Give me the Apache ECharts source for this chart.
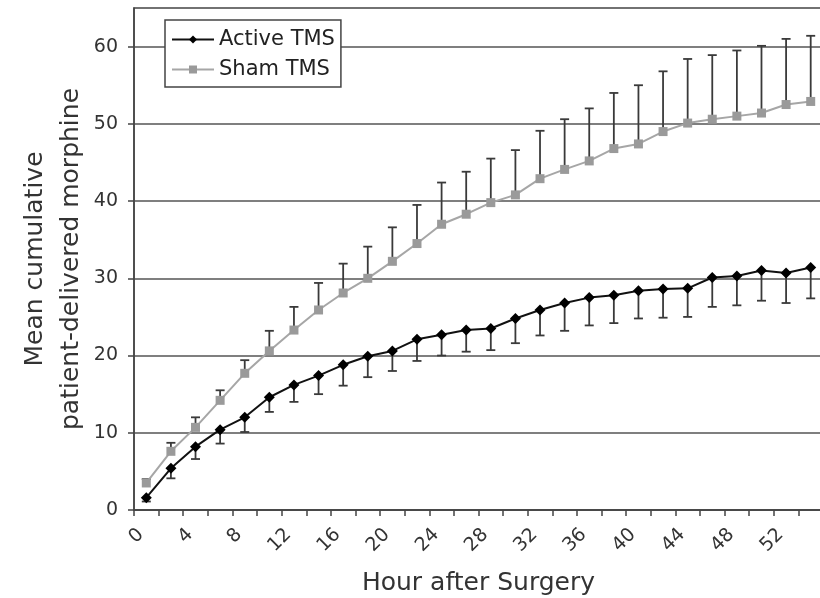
<!DOCTYPE html>
<html>
<head>
<meta charset="utf-8">
<script src="https://cdn.jsdelivr.net/npm/echarts@6/dist/echarts.min.js"></script>
<style>
  html, body { margin: 0; padding: 0; background: #fff; }
  #main { width: 820px; height: 598px; }
</style>
</head>
<body>
<div id="main"></div>
<script>
// hours after surgery (points sit on odd hours)
var hours = [1, 3, 5, 7, 9, 11, 13, 15, 17, 19, 21, 23, 25, 27, 29, 31, 33, 35, 37, 39, 41, 43, 45, 47, 49, 51, 53, 55];
// Active TMS mean and lower end of error bar
var activeMean = [1.6, 5.4, 8.2, 10.4, 12.0, 14.6, 16.2, 17.4, 18.8, 19.9, 20.6, 22.1, 22.7, 23.3, 23.5, 24.8, 25.9, 26.8, 27.5, 27.8, 28.4, 28.6, 28.7, 30.1, 30.3, 31.0, 30.7, 31.4];
var activeLow = [1.1, 4.1, 6.6, 8.6, 10.1, 12.7, 14.0, 15.0, 16.1, 17.2, 18.0, 19.3, 20.0, 20.5, 20.7, 21.6, 22.6, 23.2, 23.9, 24.2, 24.8, 24.9, 25.0, 26.3, 26.5, 27.1, 26.8, 27.4];
// Sham TMS mean and upper end of error bar
var shamMean = [3.5, 7.6, 10.7, 14.2, 17.7, 20.6, 23.3, 25.9, 28.1, 30.0, 32.2, 34.5, 37.0, 38.3, 39.8, 40.8, 42.9, 44.1, 45.2, 46.8, 47.4, 49.0, 50.1, 50.6, 51.0, 51.4, 52.5, 52.9];
var shamHigh = [4.0, 8.7, 12.0, 15.5, 19.4, 23.2, 26.3, 29.4, 31.9, 34.1, 36.6, 39.5, 42.4, 43.8, 45.5, 46.6, 49.1, 50.6, 52.0, 54.0, 55.0, 56.8, 58.4, 58.9, 59.5, 60.1, 61.0, 61.4];
// tick labels
var yTicks = [0, 10, 20, 30, 40, 50, 60];
var xTicks = [0, 4, 8, 12, 16, 20, 24, 28, 32, 36, 40, 44, 48, 52];

var FONT = '"DejaVu Sans", Verdana, sans-serif';

function pairs(xs, ys) {
    var out = [];
    for (var i = 0; i < xs.length; i++) out.push([xs[i], ys[i]]);
    return out;
}
function bars(xs, lo, hi) {
    var out = [];
    for (var i = 0; i < xs.length; i++) out.push([xs[i], lo[i], hi[i]]);
    return out;
}
// capAt: 1 = cap at low end, 2 = cap at high end
function errRender(capAt) {
    return function (params, api) {
        var x = api.value(0);
        var p1 = api.coord([x, api.value(1)]);
        var p2 = api.coord([x, api.value(2)]);
        var c = capAt === 1 ? p1 : p2;
        var st = { stroke: '#3a3a3a', lineWidth: 1.8 };
        return {
            type: 'group',
            children: [
                { type: 'line', shape: { x1: p1[0], y1: p1[1], x2: p2[0], y2: p2[1] }, style: st },
                { type: 'line', shape: { x1: c[0] - 4.5, y1: c[1], x2: c[0] + 4.5, y2: c[1] }, style: st }
            ]
        };
    };
}

var myChart = echarts.init(document.getElementById('main'));
myChart.setOption({
    backgroundColor: '#fff',
    animation: false,
    textStyle: { fontFamily: FONT },
    grid: {
        left: 134, width: 689, top: 8, bottom: 88,
        outerBoundsMode: 'none',
        containLabel: false,
        show: true, borderColor: '#444', borderWidth: 1.5
    },
    legend: {
        orient: 'vertical',
        left: 165, top: 20,
        data: ['Active TMS', 'Sham TMS'],
        backgroundColor: '#fff',
        borderColor: '#444', borderWidth: 1.5, borderRadius: 0,
        padding: [9, 6, 7, 6],
        itemWidth: 42, itemHeight: 10, itemGap: 9,
        textStyle: { fontFamily: FONT, fontSize: 21, color: '#222' }
    },
    xAxis: {
        type: 'value',
        min: 0, max: 56, interval: 4,
        name: 'Hour after Surgery',
        nameLocation: 'middle',
        nameGap: 61,
        nameTextStyle: { fontFamily: FONT, fontSize: 25, color: '#333' },
        axisLine: { lineStyle: { color: '#444', width: 1.5 } },
        axisTick: { show: true, length: 6, lineStyle: { color: '#444', width: 1.5 } },
        minorTick: { show: true, splitNumber: 2, length: 6, lineStyle: { color: '#444', width: 1.5 } },
        splitLine: { show: false },
        axisLabel: {
            rotate: 45, fontSize: 19, color: '#333', margin: 15,
            verticalAlign: 'top',
            customValues: xTicks
        }
    },
    yAxis: {
        type: 'value',
        min: 0, max: 65, interval: 10,
        name: 'Mean cumulative\npatient-delivered morphine',
        nameLocation: 'middle',
        nameGap: 45,
        nameMoveOverlap: false,
        nameTextStyle: { fontFamily: FONT, fontSize: 25, color: '#333', lineHeight: 36 },
        axisLine: { show: true, lineStyle: { color: '#444', width: 1.5 } },
        axisTick: { show: true, length: 6, lineStyle: { color: '#444', width: 1.5 }, customValues: yTicks },
        splitLine: { show: true, lineStyle: { color: '#555', width: 1.5 } },
        axisLabel: {
            fontSize: 19, color: '#333', margin: 16,
            customValues: yTicks
        }
    },
    series: [
        {
            name: 'sham-err',
            type: 'custom',
            renderItem: errRender(2),
            data: bars(hours, shamMean, shamHigh),
            encode: { x: 0, y: [1, 2] },
            z: 2
        },
        {
            name: 'active-err',
            type: 'custom',
            renderItem: errRender(1),
            data: bars(hours, activeLow, activeMean),
            encode: { x: 0, y: [1, 2] },
            z: 2
        },
        {
            name: 'Sham TMS',
            type: 'line',
            data: pairs(hours, shamMean),
            symbol: 'rect', symbolSize: 9,
            itemStyle: { color: '#9a9a9a' },
            lineStyle: { color: '#a6a6a6', width: 2 },
            z: 3
        },
        {
            name: 'Active TMS',
            type: 'line',
            data: pairs(hours, activeMean),
            symbol: 'diamond', symbolSize: 11,
            itemStyle: { color: '#000' },
            lineStyle: { color: '#111', width: 2 },
            z: 4
        }
    ]
});
</script>
</body>
</html>
